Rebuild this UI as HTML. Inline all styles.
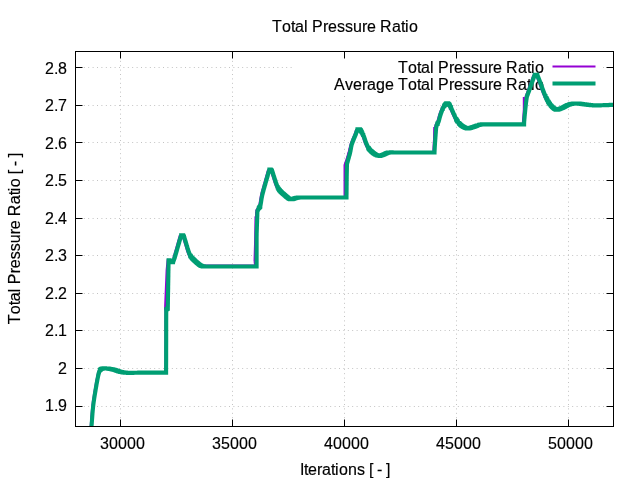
<!DOCTYPE html>
<html lang="en">
<head>
<meta charset="utf-8">
<title>Total Pressure Ratio</title>
<style>
html,body{margin:0;padding:0;background:#fff;}
body{width:640px;height:480px;overflow:hidden;font-family:"Liberation Sans",sans-serif;}
svg{display:block;}
</style>
</head>
<body>
<svg width="640" height="480" viewBox="0 0 640 480">
<rect width="640" height="480" fill="#fff"/>
<g stroke="#bcbcbc" stroke-width="1" stroke-dasharray="0.9 3.5" stroke-dashoffset="-0.05" fill="none">
<path d="M75.0 67.5H613.5"/>
<path d="M75.0 105.5H613.5"/>
<path d="M75.0 142.5H613.5"/>
<path d="M75.0 180.5H613.5"/>
<path d="M75.0 218.5H613.5"/>
<path d="M75.0 255.5H613.5"/>
<path d="M75.0 293.5H613.5"/>
<path d="M75.0 330.5H613.5"/>
<path d="M75.0 368.5H613.5"/>
<path d="M75.0 406.5H613.5"/>
<path d="M120.5 427.0V51.5"/>
<path d="M232.5 427.0V51.5"/>
<path d="M344.5 427.0V51.5"/>
<path d="M456.5 427.0V51.5"/>
<path d="M568.5 427.0V51.5"/>
</g>
<rect x="292.5" y="52" width="310.5" height="43" fill="#fff"/>
<g stroke="#000" stroke-width="1" fill="none">
<path d="M75.5 67.5h7M613.5 67.5h-7"/>
<path d="M75.5 105.5h7M613.5 105.5h-7"/>
<path d="M75.5 142.5h7M613.5 142.5h-7"/>
<path d="M75.5 180.5h7M613.5 180.5h-7"/>
<path d="M75.5 218.5h7M613.5 218.5h-7"/>
<path d="M75.5 255.5h7M613.5 255.5h-7"/>
<path d="M75.5 293.5h7M613.5 293.5h-7"/>
<path d="M75.5 330.5h7M613.5 330.5h-7"/>
<path d="M75.5 368.5h7M613.5 368.5h-7"/>
<path d="M75.5 406.5h7M613.5 406.5h-7"/>
<path d="M120.5 426.5v-7M120.5 51.5v7"/>
<path d="M232.5 426.5v-7M232.5 51.5v7"/>
<path d="M344.5 426.5v-7M344.5 51.5v7"/>
<path d="M456.5 426.5v-7M456.5 51.5v7"/>
<path d="M568.5 426.5v-7M568.5 51.5v7"/>
</g>
<g font-family="'Liberation Sans', sans-serif" font-size="16" fill="#000" stroke="#000" stroke-width="0.15">
<text x="45 54 58" y="73.8">2.8</text>
<text x="45 54 58" y="111.3">2.7</text>
<text x="45 54 58" y="148.8">2.6</text>
<text x="45 54 58" y="186.3">2.5</text>
<text x="45 54 58" y="223.8">2.4</text>
<text x="45 54 58" y="261.3">2.3</text>
<text x="45 54 58" y="298.8">2.2</text>
<text x="45 54 58" y="336.3">2.1</text>
<text x="58" y="373.8">2</text>
<text x="45 54 58" y="411.3">1.9</text>
<text x="100 109 118 127 136" y="448.8">30000</text>
<text x="212 221 230 239 248" y="448.8">35000</text>
<text x="324 333 342 351 360" y="448.8">40000</text>
<text x="436 445 454 463 472" y="448.8">45000</text>
<text x="548 557 566 575 584" y="448.8">50000</text>
<text x="272 282 291 295 304 308 312 323 328 337 345 353 362 367 376 380 392 401 405 409" y="31.6">Total Pressure Ratio</text>
<text x="300.1 304.1 308.1 317.1 322.1 331.1 335.1 339.1 348.1 357.1 365.1 369.1 373.1 377.1 382.1 386.1" y="475">Iterations [ - ]</text>
<text transform="translate(20.2 324.2) rotate(-90)" x="0 10 19 23 32 36 40 51 56 65 73 81 90 95 104 108 120 129 133 137 146 150 154 158 163 167" y="0">Total Pressure Ratio [ - ]</text>
</g>
<clipPath id="c"><rect x="75.5" y="51.5" width="538.0" height="375.0"/></clipPath>
<g font-family="'Liberation Sans', sans-serif" font-size="16" fill="#000" stroke="#000" stroke-width="0.15">
<text x="398 408 417 421 430 434 438 449 454 463 471 479 488 493 502 506 518 527 531 535" y="73">Total Pressure Ratio</text>
<text x="334 345 353 362 367 376 385 394 398 408 417 421 430 434 438 449 454 463 471 479 488 493 502 506 518 527 531 535" y="89.5">Average Total Pressure Ratio</text>
</g>
<path d="M552.5 66.5H595.5" stroke="#9400d3" stroke-width="2" fill="none"/>
<path d="M552.5 83.5H595.5" stroke="#009e73" stroke-width="4.2" fill="none"/>
<g clip-path="url(#c)" fill="none" stroke="#9400d3" stroke-width="2" stroke-linejoin="round">
<polyline points="173.29,258.00 174.52,253.75"/>
<polyline points="174.52,253.75 179.84,235.40"/>
<polyline points="179.84,235.40 182.40,235.40"/>
<polyline points="182.40,235.40 185.58,246.00"/>
<polyline points="185.58,246.00 185.73,246.50 185.88,247.01 186.03,247.51 186.18,248.02 186.32,248.52 186.48,249.02 186.63,249.51 186.78,250.00 186.93,250.45 187.07,250.91 187.22,251.35 187.37,251.80 187.52,252.24 187.68,252.67 187.84,253.09 188.00,253.50 188.15,253.86 188.30,254.22 188.45,254.57 188.61,254.91 188.77,255.24 188.94,255.57 189.11,255.89 189.30,256.20 189.49,256.48 189.68,256.75 189.88,257.01 190.08,257.27 190.30,257.52 190.52,257.77 190.76,258.03 191.00,258.30 191.32,258.64 191.66,258.98 192.01,259.33 192.38,259.69 192.75,260.04 193.14,260.40 193.52,260.75 193.90,261.10 194.30,261.47 194.71,261.85 195.13,262.23 195.55,262.61 195.97,262.98 196.39,263.34 196.80,263.68 197.20,264.00 197.52,264.25 197.84,264.49 198.14,264.73 198.45,264.95 198.76,265.16 199.07,265.36 199.38,265.54 199.70,265.70 200.00,265.83 200.31,265.95 200.62,266.05 200.94,266.14 201.25,266.22 201.57,266.29 201.88,266.35 202.20,266.40 202.51,266.44 202.81,266.47 203.11,266.48 203.41,266.49 203.72,266.49 204.03,266.49 204.36,266.50 204.70,266.50 205.16,266.51 205.63,266.51 206.13,266.51 206.64,266.51 207.16,266.51 207.68,266.50 208.19,266.50 208.70,266.50"/>
<polyline points="208.70,266.50 255.30,266.50"/>
<polyline points="255.30,266.50 254.50,261.00"/>
<polyline points="254.50,261.00 254.56,258.90 254.62,256.83 254.68,254.78 254.74,252.72 254.80,250.64 254.86,248.50 254.93,246.30 255.00,244.00 255.10,240.89 255.22,237.48 255.34,233.89 255.47,230.26 255.60,226.72 255.71,223.41 255.82,220.46 255.90,218.00 255.93,216.98 255.96,216.07 255.99,215.25 256.01,214.48 256.03,213.75 256.05,213.02 256.08,212.28 256.10,211.50"/>
<polyline points="256.10,211.50 256.27,211.09 256.44,210.68 256.61,210.26 256.77,209.84 256.95,209.43 257.12,209.04 257.31,208.66 257.50,208.30 257.67,208.02 257.85,207.75 258.04,207.50 258.23,207.26 258.42,207.02 258.62,206.78 258.81,206.55 259.00,206.30"/>
<polyline points="259.00,206.30 259.07,205.89 259.15,205.49 259.22,205.09 259.30,204.69 259.37,204.29 259.45,203.87 259.52,203.45 259.60,203.00 259.70,202.42 259.79,201.82 259.88,201.20 259.98,200.56 260.08,199.92 260.18,199.27 260.29,198.63 260.40,198.00 260.52,197.38 260.64,196.76 260.76,196.14 260.88,195.52 261.01,194.90 261.15,194.28 261.30,193.64 261.45,193.00 261.63,192.27 261.83,191.53 262.03,190.77 262.25,190.01 262.47,189.24 262.68,188.48 262.90,187.73 263.10,187.00 263.29,186.33 263.48,185.66 263.67,185.01 263.86,184.35 264.04,183.70 264.23,183.05 264.41,182.40 264.60,181.75"/>
<polyline points="264.60,181.75 268.09,169.50"/>
<polyline points="268.09,169.50 270.38,169.50"/>
<polyline points="270.38,169.50 273.34,178.75"/>
<polyline points="273.34,178.75 273.56,179.42 273.77,180.10 273.99,180.79 274.20,181.47 274.42,182.15 274.64,182.81 274.87,183.47 275.10,184.10 275.31,184.66 275.52,185.22 275.73,185.77 275.95,186.31 276.17,186.83 276.40,187.34 276.65,187.83 276.90,188.30 277.12,188.68 277.35,189.03 277.58,189.37 277.82,189.70 278.07,190.03 278.34,190.35 278.61,190.67 278.90,191.00 279.26,191.39 279.65,191.78 280.06,192.18 280.48,192.57 280.91,192.96 281.35,193.34 281.78,193.72 282.20,194.10 282.61,194.46 283.02,194.83 283.43,195.19 283.84,195.55 284.25,195.91 284.66,196.25 285.06,196.58 285.45,196.90 285.78,197.17 286.12,197.44 286.44,197.71 286.77,197.97 287.09,198.22 287.40,198.44 287.71,198.64 288.00,198.80 288.20,198.90 288.39,198.98 288.57,199.05 288.76,199.11 288.94,199.16 289.12,199.20 289.31,199.23 289.50,199.25 289.70,199.26 289.91,199.27 290.12,199.26 290.33,199.24 290.54,199.22 290.75,199.18 290.97,199.14 291.20,199.10 291.48,199.03 291.77,198.94 292.06,198.84 292.36,198.73 292.66,198.62 292.97,198.50 293.28,198.40 293.60,198.30 293.97,198.20 294.36,198.10 294.76,197.99 295.16,197.90 295.57,197.81 295.96,197.73 296.34,197.66 296.70,197.60 296.96,197.57 297.20,197.54 297.43,197.53 297.66,197.52 297.89,197.51 298.13,197.51 298.40,197.51 298.70,197.50 299.30,197.49 299.97,197.48 300.71,197.48 301.50,197.49 302.31,197.49 303.12,197.49 303.93,197.50 304.70,197.50"/>
<polyline points="304.70,197.50 345.20,197.50"/>
<polyline points="345.20,197.50 345.23,194.63 345.26,191.69 345.29,188.72 345.32,185.77 345.35,182.87 345.38,180.08 345.41,177.44 345.45,175.00 345.48,173.41 345.51,171.92 345.54,170.50 345.57,169.13 345.60,167.80 345.64,166.47 345.67,165.13 345.70,163.75"/>
<polyline points="345.70,163.75 345.92,162.97 346.14,162.19 346.36,161.41 346.58,160.63 346.80,159.84 347.02,159.06 347.24,158.28 347.45,157.50 347.66,156.72 347.88,155.94 348.10,155.16 348.31,154.38 348.52,153.60 348.72,152.82 348.92,152.03 349.10,151.25 349.27,150.46 349.42,149.66 349.55,148.85 349.69,148.05 349.82,147.25 349.97,146.47 350.12,145.72 350.30,145.00 350.46,144.43 350.63,143.89 350.81,143.37 350.99,142.87 351.18,142.36 351.38,141.84 351.58,141.31 351.80,140.75 352.08,140.02 352.39,139.27 352.71,138.49 353.05,137.70 353.39,136.89 353.73,136.09 354.07,135.29 354.40,134.50"/>
<polyline points="354.40,134.50 356.20,129.20"/>
<polyline points="356.20,129.20 358.30,129.20"/>
<polyline points="358.30,129.20 358.45,129.37 358.59,129.52 358.74,129.67 358.88,129.83 359.03,129.99 359.18,130.17 359.34,130.37 359.50,130.60 359.83,131.11 360.19,131.72 360.57,132.41 360.97,133.15 361.36,133.92 361.75,134.71 362.11,135.49 362.45,136.25 362.75,137.01 363.03,137.78 363.29,138.56 363.53,139.35 363.78,140.14 364.03,140.94 364.30,141.72 364.60,142.50 364.93,143.30 365.26,144.13 365.61,144.95 365.97,145.77 366.35,146.58 366.75,147.35 367.16,148.08 367.60,148.75 368.00,149.28 368.41,149.78 368.85,150.25 369.29,150.69 369.75,151.12 370.20,151.53 370.65,151.92 371.10,152.30 371.49,152.62 371.88,152.93 372.27,153.23 372.66,153.51 373.05,153.78 373.44,154.04 373.82,154.28 374.20,154.50 374.52,154.68 374.85,154.84 375.18,155.00 375.51,155.14 375.83,155.28 376.13,155.40 376.43,155.50 376.70,155.60 376.87,155.66 377.04,155.71 377.20,155.76 377.35,155.81 377.50,155.84 377.65,155.87 377.80,155.89 377.95,155.90 378.10,155.90 378.25,155.88 378.40,155.86 378.55,155.83 378.70,155.79 378.86,155.74 379.02,155.70 379.20,155.65 379.47,155.57 379.75,155.49 380.05,155.40 380.35,155.29 380.67,155.18 381.01,155.06 381.35,154.93 381.70,154.80 382.22,154.58 382.80,154.33 383.41,154.04 384.04,153.75 384.66,153.46 385.25,153.20 385.81,152.97 386.30,152.80 386.57,152.72 386.81,152.66 387.04,152.61 387.26,152.56 387.48,152.53 387.70,152.50 387.94,152.47 388.20,152.45 388.59,152.42 389.00,152.41 389.43,152.41 389.88,152.42 390.34,152.43 390.80,152.44 391.26,152.45 391.70,152.45"/>
<polyline points="391.70,152.45 433.20,152.45"/>
<polyline points="433.20,152.45 433.25,151.54 433.29,150.66 433.34,149.79 433.38,148.91 433.43,148.01 433.48,147.07 433.53,146.07 433.60,145.00 433.72,143.23 433.85,141.28 434.00,139.21 434.16,137.04 434.32,134.83 434.48,132.59 434.65,130.39 434.80,128.25"/>
<polyline points="434.80,128.25 434.88,127.84 434.95,127.43 435.02,127.02 435.10,126.61 435.17,126.20 435.26,125.79 435.37,125.39 435.50,125.00 435.66,124.62 435.84,124.26 436.04,123.92 436.25,123.58 436.47,123.22 436.69,122.85 436.90,122.44 437.10,122.00 437.38,121.25 437.64,120.41 437.89,119.50 438.14,118.54 438.39,117.57 438.65,116.60 438.92,115.65 439.20,114.75 439.48,113.93 439.77,113.11 440.06,112.29 440.36,111.48 440.66,110.69 440.97,109.92 441.28,109.19 441.60,108.50 441.85,107.97 442.11,107.45 442.37,106.94 442.64,106.46 442.90,106.00 443.17,105.56 443.43,105.16 443.70,104.80 443.89,104.57 444.07,104.37 444.26,104.19 444.45,104.02 444.64,103.85 444.82,103.69 445.01,103.52 445.20,103.35"/>
<polyline points="445.20,103.35 446.50,103.35"/>
<polyline points="446.50,103.35 446.70,103.52 446.90,103.69 447.11,103.85 447.31,104.02 447.51,104.19 447.71,104.37 447.91,104.57 448.10,104.80 448.35,105.15 448.59,105.54 448.82,105.97 449.05,106.42 449.27,106.88 449.50,107.35 449.72,107.81 449.95,108.25"/>
<polyline points="449.95,108.25 450.29,109.03 450.63,109.81 450.97,110.60 451.31,111.38 451.65,112.16 451.99,112.94 452.34,113.72 452.70,114.50 453.06,115.29 453.42,116.10 453.78,116.91 454.14,117.71 454.52,118.51 454.92,119.28 455.34,120.03 455.80,120.75 456.27,121.42 456.77,122.07 457.29,122.72 457.84,123.34 458.39,123.93 458.96,124.50 459.53,125.02 460.10,125.50 460.60,125.88 461.13,126.23 461.67,126.56 462.22,126.86 462.75,127.13 463.27,127.38 463.75,127.60 464.20,127.80 464.47,127.91 464.72,128.02 464.96,128.11 465.19,128.20 465.41,128.27 465.64,128.32 465.86,128.37 466.10,128.40 466.33,128.42 466.56,128.42 466.78,128.40 467.01,128.38 467.24,128.34 467.48,128.30 467.73,128.25 468.00,128.20 468.40,128.11 468.81,128.00 469.25,127.88 469.70,127.74 470.17,127.59 470.66,127.43 471.17,127.27 471.70,127.10 472.53,126.82 473.43,126.49 474.40,126.13 475.40,125.76 476.40,125.40 477.39,125.07 478.33,124.80 479.20,124.60 479.81,124.50 480.39,124.44 480.95,124.41 481.50,124.40 482.04,124.40 482.58,124.41 483.13,124.41 483.70,124.40 484.31,124.39 484.93,124.38 485.56,124.37 486.18,124.36 486.81,124.36 487.44,124.36 488.07,124.36 488.70,124.35"/>
<polyline points="488.70,124.35 522.80,124.35"/>
<polyline points="522.80,124.35 522.82,123.95 522.83,123.58 522.84,123.21 522.85,122.84 522.87,122.45 522.89,122.03 522.91,121.55 522.95,121.00 523.08,119.31 523.28,117.13 523.51,114.61 523.78,111.90 524.05,109.16 524.33,106.54 524.58,104.18 524.80,102.25 524.91,101.37 525.01,100.58 525.11,99.85 525.21,99.17 525.31,98.51 525.40,97.86 525.50,97.20 525.60,96.50"/>
<polyline points="525.60,96.50 525.76,96.07 525.92,95.65 526.07,95.23 526.23,94.81 526.39,94.39 526.55,93.95 526.72,93.49 526.90,93.00 527.15,92.31 527.42,91.56 527.70,90.79 527.99,89.99 528.28,89.17 528.57,88.35 528.86,87.54 529.15,86.75 529.43,85.97 529.71,85.19 529.99,84.41 530.28,83.62 530.56,82.84 530.84,82.06 531.12,81.28 531.40,80.50"/>
<polyline points="531.40,80.50 533.45,74.90"/>
<polyline points="533.45,74.90 535.95,74.90"/>
<polyline points="535.95,74.90 538.90,82.50"/>
<polyline points="538.90,82.50 539.39,83.85 539.90,85.26 540.42,86.69 540.93,88.11 541.43,89.48 541.90,90.78 542.35,91.96 542.76,93.00 542.97,93.52 543.16,93.99 543.34,94.41 543.52,94.81 543.69,95.20 543.87,95.61 544.08,96.03 544.30,96.50 544.64,97.21 545.02,97.99 545.43,98.81 545.85,99.65 546.29,100.48 546.73,101.29 547.17,102.06 547.60,102.75 547.93,103.25 548.26,103.72 548.58,104.17 548.91,104.59 549.24,105.01 549.58,105.41 549.94,105.81 550.30,106.20 550.68,106.59 551.08,106.99 551.49,107.39 551.91,107.77 552.32,108.13 552.73,108.46 553.13,108.75 553.50,109.00 553.74,109.14 553.97,109.27 554.19,109.38 554.41,109.47 554.63,109.55 554.85,109.62 555.07,109.67 555.30,109.70 555.52,109.71 555.73,109.71 555.94,109.68 556.16,109.65 556.38,109.60 556.61,109.54 556.85,109.47 557.10,109.40 557.51,109.28 557.95,109.13 558.41,108.96 558.89,108.78 559.39,108.58 559.90,108.36 560.42,108.13 560.95,107.90 561.67,107.56 562.43,107.16 563.23,106.73 564.04,106.28 564.85,105.84 565.66,105.43 566.45,105.05 567.20,104.75 567.79,104.55 568.36,104.37 568.92,104.22 569.48,104.09 570.03,103.97 570.58,103.87 571.14,103.78 571.70,103.70 572.25,103.63 572.79,103.57 573.33,103.53 573.88,103.50 574.43,103.48 574.99,103.48 575.58,103.48 576.20,103.50 577.04,103.55 577.93,103.63 578.84,103.74 579.79,103.87 580.75,104.00 581.73,104.14 582.72,104.28 583.70,104.40 584.78,104.53 585.88,104.68 586.99,104.82 588.12,104.97 589.25,105.11 590.40,105.23 591.55,105.33 592.70,105.40 593.93,105.44 595.17,105.45 596.42,105.43 597.68,105.39 598.94,105.35 600.21,105.30 601.46,105.24 602.70,105.20 603.90,105.16 605.09,105.11 606.28,105.06 607.47,105.01 608.65,104.96 609.83,104.90 611.01,104.85 612.20,104.80"/>
<polyline points="90.60,426.50 90.82,423.79 91.02,421.06 91.22,418.32 91.43,415.58 91.64,412.87 91.87,410.19 92.12,407.56 92.40,405.00 92.68,402.75 92.99,400.51 93.32,398.29 93.66,396.11 94.01,393.98 94.35,391.92 94.69,389.96 95.00,388.10 95.22,386.78 95.44,385.52 95.65,384.30 95.86,383.13 96.07,381.99 96.28,380.88 96.49,379.80 96.70,378.75 96.87,377.90 97.03,377.07 97.19,376.25 97.35,375.46 97.51,374.69 97.69,373.95 97.89,373.26 98.10,372.60 98.27,372.13 98.44,371.66 98.61,371.21 98.79,370.78 98.98,370.38 99.19,370.01 99.43,369.68 99.70,369.40 99.95,369.21 100.23,369.06 100.53,368.94 100.84,368.85 101.16,368.76 101.48,368.69 101.79,368.60 102.10,368.50"/>
<polyline points="160.00,372.60 165.40,372.60 165.40,311.00 165.00,309.00 166.60,270.00 167.60,259.80 171.00,261.00"/>
<polyline points="200.00,265.50 255.50,265.50 255.50,217.00 256.50,216.00 256.60,209.00"/>
<polyline points="340.00,197.50 344.50,197.50 344.50,165.00 346.90,158.00 348.80,151.50 350.30,146.00"/>
<polyline points="430.00,152.45 434.20,152.45 434.20,127.00"/>
<polyline points="520.00,124.35 523.80,124.35 523.80,97.00"/>
</g>
<g clip-path="url(#c)"><path transform="scale(0.05)" d="M1830 8530v-1l1 -6v-11l1 -6v-5l1 -6v-6l1 -5v-6l1 -6v-11l1 -6v-6l1 -6v-6l1 -6v-6l1 -6v-6l1 -7v-12l1 -6v-6l1 -6v-6l1 -6v-6l1 -6v-13l1 -6v-6l1 -6v-6l1 -6v-5l1 -6v-12l1 -5v-6l1 -6v-6l1 -5v-6l1 -5v-5l1 -5v-11l1 -5v-5l1 -6v-5l1 -5v-4l1 -5v-9l1 -5v-5l1 -4v-5l1 -5v-5l1 -4v-8l1 -4v-4l1 -4v-4l1 -4v-4l1 -5v-4l1 -4v-7l1 -4v-4l1 -3v-4l1 -3v-4l1 -3v-7l1 -4v-4l1 -3v-3l1 -4v-3l1 -3v-7l1 -3v-3l1 -3v-4l1 -3v-3l1 -3v-3l1 -3v-6l1 -3v-3l1 -3v-4l1 -3v-3l1 -3v-6l1 -3v-3l1 -3v-2l1 -3v-3l1 -3v-6l1 -3v-2l1 -3v-3l1 -3v-3l1 -3v-3l1 -2v-6l1 -3v-2l1 -3v-3l1 -3v-2l1 -3v-6l1 -2v-3l1 -3v-3l1 -2v-3l1 -3v-5l1 -3v-2l1 -3v-3l1 -3v-2l1 -3v-3l1 -2v-6l1 -2v-3l1 -3v-2l1 -3v-3l1 -2v-5l1 -3v-3l1 -2v-3l1 -3v-2l1 -3v-5l1 -3v-3l1 -2v-3l1 -3v-2l1 -3v-3l1 -2v-6l1 -2v-3l1 -3v-2l1 -3v-2l1 -3v-5l1 -3v-3l1 -2v-3l1 -3v-2l1 -3v-2l1 -3v-5l1 -3v-2l1 -3v-2l1 -3v-3l1 -2v-5l1 -3v-2l1 -3v-2l1 -3v-2l1 -3v-5l1 -2v-3l1 -2v-3l1 -2v-2l1 -3v-2l1 -3v-5l1 -2v-2l1 -3v-2l1 -2v-3l1 -2v-5l1 -2v-2l1 -3v-2l1 -2v-3l1 -2v-4l1 -3v-2l1 -2v-2l1 -3v-2l1 -2v-2l1 -3v-4l1 -2v-3l1 -2v-2l1 -2v-3l1 -2v-5l1 -2v-2l1 -3v-2l1 -2v-3l1 -2v-5l1 -2v-2l1 -2v-2l1 -3v-2l1 -2v-2l1 -2v-5l1 -2v-2l1 -2v-2l1 -2v-2l1 -1v-4l1 -2v-2l1 -2v-1l1 -2v-2l1 -1v-3l1 -2v-2l1 -1v-2l1 -1v-1l1 -2v-1l1 -1v-3l1 -2v-1l1 -1v-1l1 -2v-1l1 -1v-3l1 -1v-1l1 -1v-2l1 -1v-1l1 -1v-3l1 -1v-1l1 -1v-2l1 -1v-1l1 -1v-1l1 -1v-2l1 -1v-1l1 -1v-1l1 -1v-1l1 -1v-2l1 -1v-1l1 -1v-1h1v-1l1 -1v-1l1 -1v-1l2 -2v-1h1v-1h1v-2h1v-1h1v-1h1v-1h1v-1l3 -3h1v-1l1 -1h1v-1h1l1 -1h1v-1h1l1 -1h1l1 -1h1v-1h2v-1h2v-1h3v-1h2l1 -1h2v-1h4v-1h4v-1h4v-1h5v-1h5v-1h6l1 -1h7v-1h49l1 1h13v1h11v1h10l1 1h8v1h8v1h7v1h7v1h6v1h6l1 1h5l1 1h5v1h6v1h5l1 1h4v1h5l1 1h4l1 1h4v1h5v1h4l1 1h4v1h4l1 1h3l1 1h4v1h4v1h3l1 1h3v1h3l1 1h3l1 1h3v1h3v1h3v1h3l1 1h2l1 1h2l1 1h2v1h3l1 1h2v1h3v1h3v1h2l1 1h2l1 1h2v1h3v1h3v1h2l1 1h2v1h3v1h2l1 1h2v1h3l1 1h2v1h3v1h2l1 1h2v1h3l1 1h2v1h3v1h3v1h3v1h2l1 1h3v1h3v1h3l1 1h2l1 1h3v1h3l1 1h3v1h4v1h4v1h4v1h4v1h4l1 1h4l1 1h4l1 1h5v1h5l1 1h5l1 1h5l1 1h6v1h7v1h8v1h8l1 1h8v1h10v1h11v1h13v1h15v1h17v1h26v1h26l1 -1h33v-1h24v-1h27l1 -1h64l1 -1h127v-1h432v-69l1 -188v-189l1 -189v-377l1 -188v-62h1v-1h1l2 -2h1l1 -1h1v-1h1l1 -1h1v-1h2v-1h1v-1h2v-1h1v-1h2v-1h1l2 -2h1l1 -1h1v-1h1l1 -1h1v-1h2v-1h1v-1h1v-14l1 -27v-27l1 -27v-54l1 -27v-27l1 -27v-27l1 -27v-27l1 -27v-27l1 -27v-54l1 -27v-27l1 -27v-28l1 -27v-27l1 -27v-54l1 -27v-27l1 -27v-27l1 -27v-27l1 -27v-54l1 -27v-4h2l1 1h5l1 1h6v1h5v1h3l1 1h2l1 1h2l1 1h1l1 1h2v1h2v1h2v1h2v1h2v1h1l1 1h1l1 1h1v1h2v1h2v1h1v1h2v1h2v1h1l1 1h1v1h1l1 1h1l1 1h1v1h1l1 1h1v1h2v1h1l1 1h1v1h1l1 1h1l1 1h1v1h1l1 1h1l1 1h1v1h1l1 1h1l1 1h1v1h1v-1l1 -1v-1l1 -1v-3l1 -1v-1l1 -1v-2l1 -1v-1l1 -1v-1l1 -2v-2l1 -1v-2l1 -1v-1l1 -1v-1l1 -2v-2l1 -1v-1l1 -2v-1l1 -1v-1l1 -2v-2l1 -1v-1l1 -2v-1l1 -1v-1l1 -1v-2l1 -1v-2l1 -2v-1l1 -1v-1l1 -1v-2l1 -1v-2l1 -1v-2l1 -1v-1l1 -1v-2l1 -1v-2l1 -1v-2l1 -1v-1l1 -1v-1l1 -2v-1l1 -2v-3l1 -1v-2l1 -1v-2l1 -2v-1l1 -2v-3l1 -1v-2l1 -1v-2l1 -1v-2l1 -2v-3l1 -1v-2l1 -1v-2l1 -1v-2l1 -1v-2l1 -2v-3l1 -1v-2l1 -1v-2l1 -1v-2l1 -1v-4l1 -1v-2l1 -1v-2l1 -1v-2l1 -1v-3l1 -2v-2l1 -1v-2l1 -1v-2l1 -1v-2l1 -1v-3l1 -2v-2l1 -1v-2l1 -1v-2l1 -1v-3l1 -2v-1l1 -2v-2l1 -1v-2l1 -1v-2l1 -1v-3l1 -2v-1l1 -2v-2l1 -1v-2l1 -1v-3l1 -2v-1l1 -2v-1l1 -2v-2l1 -1v-3l1 -2v-1l1 -2v-1l1 -2v-1l1 -2v-2l1 -1v-3l1 -2v-1l1 -2v-1l1 -2v-1l1 -2v-3l1 -2v-1l1 -2v-1l1 -2v-1l1 -2v-3l1 -2v-1l1 -2v-1l1 -2v-1l1 -2v-1l1 -2v-3l1 -2v-1l1 -2v-1l1 -2v-1l1 -2v-3l1 -2v-1l1 -2v-1l1 -2v-1l1 -2v-3l1 -1v-2l1 -2v-1l1 -2v-1l1 -2v-1l1 -2v-3l1 -1v-2l1 -2v-1l1 -2v-1l1 -2v-3l1 -1v-2l1 -1v-2l1 -2v-1l1 -2v-3l1 -1v-2l1 -1v-2l1 -1v-2l1 -2v-1l1 -2v-3l1 -1v-2l1 -1v-2l1 -1v-2l1 -2v-3l1 -1v-2l1 -1v-2l1 -1v-2l1 -1v-4l1 -1v-2l1 -1v-2l1 -1v-2l1 -1v-2l1 -1v-4l1 -1v-2l1 -1v-2l1 -1v-2l1 -1v-3l1 -2v-2l1 -1v-2l1 -1v-2l1 -1v-3l1 -2v-1l1 -2v-2l1 -1v-2l1 -1v-2l1 -1v-3l1 -2v-1l1 -2v-2l1 -1v-2l1 -1v-3l1 -2v-1l1 -2v-1l1 -2v-2l1 -1v-3l1 -2v-1l1 -2v-1l1 -2v-1l1 -2v-2l1 -1v-3l1 -2v-1l1 -2v-1l1 -2v-1l1 -2v-1h51l1 2v3l1 1v2l1 1v2l1 1v2l1 1v3l1 2v1l1 2v1l1 2v1l1 2v1l1 2v3l1 1v2l1 1v2l1 1v2l1 1v3l1 2v1l1 2v1l1 2v1l1 1v3l1 2v1l1 2v1l1 2v1l1 2v1l1 2v3l1 1v2l1 1v2l1 1v2l1 1v3l1 2v1l1 2v1l1 2v1l1 2v3l1 1v2l1 1v2l1 1v2l1 1v2l1 1v3l1 2v1l1 2v1l1 2v1l1 2v3l1 1v2l1 1v2l1 1v2l1 1v3l1 2v1l1 2v1l1 2v1l1 2v1l1 2v3l1 1v2l1 1v2l1 1v2l1 1v3l1 2v1l1 2v1l1 2v1l1 2v3l1 1v1l1 2v1l1 2v1l1 2v1l1 2v3l1 1v2l1 1v2l1 1v2l1 1v3l1 2v2l1 1v2l1 1v2l1 1v3l1 2v1l1 2v1l1 2v1l1 2v1l1 2v3l1 2v1l1 2v1l1 2v1l1 2v3l1 1v2l1 1v2l1 1v2l1 1v3l1 1v2l1 1v2l1 1v1l1 2v1l1 2v2l1 2v1l1 2v1l1 1v2l1 1v3l1 1v2l1 1v1l1 2v1l1 2v2l1 2v1l1 1v2l1 1v1l1 2v1l1 1v3l1 1v1l1 2v1l1 1v1l1 2v2l1 1v2l1 1v1l1 1v1l1 1v3l1 1v1l1 1v1l1 1v1l1 2v1l1 1v2l1 1v1l1 1v1l1 1v1l1 1v2l1 1v1l1 2v1l1 1v1l1 1v2l1 1v1l2 2v1l1 1v1l1 1v2l1 1v1l1 1v1h1v1l1 1v2l2 2v1l1 1v1h1v1l1 1v1l1 1v1l2 2v1h1v2h1v1l2 2v1h1v1l1 1v1h1v1l3 3v1l4 4v1l4 4v1h1v1h1v1h1v1h1v1h1v1l4 4v1h1v1h1v1h1v1h1v1l5 5v1h1v1h1v1h1l1 1v1h1v1h1v1h1v1h1v1h1v1h1v1h1v1h1v1h1v1h1v1h1v1h1v1h1v1h1v1h1v1h1l1 1v1h1v1h1l6 6h1v1l2 2h1v1h1v1h1v1h1v1h1v1h1l1 1v1h1l5 5h1v1h1v1h1v1h1v1h1v1h1l1 1v1h1l5 5h1v1h1v1h1v1h1v1h1v1h1l1 1v1h1l2 2h1v1l2 2h1v1h1v1h1v1h1v1h1l2 2v1h1l2 2h1v1l1 1h1v1h1v1h1v1h1v1h1l2 2h1v1l1 1h1v1h1v1h1v1h1v1h1l1 1h1v1l1 1h1v1h1v1h1l3 3h1v1h1v1h1v1h1l1 1h1v1l1 1h1v1h1l1 1h1v1l1 1h1v1h1l2 2h1v1h1l3 3h1v1h1l2 2h1v1h1l2 2h1v1h1l3 3h1l1 1h1v1h1v1h1l1 1h1v1h1v1h1l1 1h1v1h1l1 1h1v1h2v1h1v1h2v1h1l1 1h1l1 1h1v1h2v1h2v1h2v1h2l1 1h1l1 1h2v1h2l1 1h2v1h3v1h3v1h3v1h4v1h3l1 1h4v1h4l1 1h4v1h6v1h7v1h11v1h1047v-587l1 -37v-44l1 -12v-13l1 -13v-13l1 -12v-13l1 -13v-25l1 -12v-13l1 -13v-13l1 -12v-13l1 -13v-13l1 -13v-25l1 -14v-13l1 -13v-14l1 -14v-14l1 -14v-30l1 -15v-15l1 -15v-8l1 -1v-1l1 -1v-2l1 -1v-1l1 -1v-1l1 -1v-1l1 -1v-2l1 -1v-2l1 -1v-1l1 -1v-1l1 -2v-1l1 -1v-2l1 -1v-1l1 -1v-1l1 -2v-1l1 -1v-2l1 -1v-1l1 -1v-1l1 -1v-1l1 -1v-1l1 -1v-2l1 -1v-1l1 -1v-1l1 -1v-1l1 -1v-1l1 -1v-1l1 -1v-1l2 -2v-2h1v-1l1 -1v-1h1v-1l2 -2v-1l1 -1v-1h1v-1l2 -2v-1l3 -3v-1h1v-1l2 -2v-1h1v-1h1v-1h1v-1l1 -1v-1h1v-1h1v-1h1v-1l1 -1v-1h1v-1h1v-1h1v-1l1 -1v-1h1v-1h1v-1h1v-1l1 -3v-5l1 -2v-3l1 -2v-2l1 -3v-2l1 -3v-4l1 -3v-2l1 -3v-2l1 -3v-2l1 -3v-5l1 -2v-3l1 -2v-3l1 -2v-3l1 -3v-2l1 -3v-6l1 -3v-2l1 -3v-3l1 -3v-3l1 -3v-6l1 -3v-3l1 -3v-3l1 -3v-3l1 -3v-5l1 -3v-3l1 -3v-2l1 -3v-3l1 -3v-2l1 -3v-5l1 -2v-3l1 -2v-2l1 -3v-2l1 -3v-4l1 -3v-2l1 -2v-3l1 -2v-2l1 -2v-5l1 -2v-2l1 -2v-3l1 -2v-2l1 -2v-2l1 -2v-4l1 -3v-2l1 -2v-2l1 -2v-2l1 -2v-4l1 -2v-2l1 -1v-2l1 -2v-2l1 -2v-4l1 -2v-2l1 -1v-2l1 -2v-2l1 -1v-2l1 -2v-3l1 -2v-2l1 -2v-1l1 -2v-2l1 -1v-4l1 -1v-2l1 -2v-1l1 -2v-2l1 -1v-3l1 -2v-2l1 -1v-2l1 -1v-2l1 -2v-1l1 -2v-3l1 -2v-1l1 -2v-1l1 -2v-1l1 -2v-3l1 -2v-1l1 -2v-1l1 -2v-2l1 -1v-3l1 -2v-1l1 -2v-2l1 -1v-2l1 -1v-2l1 -1v-4l1 -1v-2l1 -1v-2l1 -2v-1l1 -2v-3l1 -1v-2l1 -2v-1l1 -2v-1l1 -2v-3l1 -2v-1l1 -2v-2l1 -1v-2l1 -1v-2l1 -1v-4l1 -1v-2l1 -1v-2l1 -1v-2l1 -2v-3l1 -1v-2l1 -1v-2l1 -2v-1l1 -2v-3l1 -1v-2l1 -1v-2l1 -2v-1l1 -2v-1l1 -2v-3l1 -2v-1l1 -2v-1l1 -2v-1l1 -2v-3l1 -2v-1l1 -2v-1l1 -2v-2l1 -1v-3l1 -2v-1l1 -2v-2l1 -1v-2l1 -1v-2l1 -1v-4l1 -1v-2l1 -1v-2l1 -1v-2l1 -2v-3l1 -1v-2l1 -1v-2l1 -2v-1l1 -2v-3l1 -1v-2l1 -2v-1l1 -2v-1l1 -2v-1l1 -2v-3l1 -2v-1l1 -2v-1l1 -2v-2l1 -1v-3l1 -2v-1l1 -2v-2l1 -1v-2l1 -1v-3l1 -2v-2l1 -1v-2l1 -1v-2l1 -1v-2l1 -2v-3l1 -1v-2l1 -1v-2l1 -2v-1l1 -2v-3l1 -1v-2l1 -2v-1l1 -2v-1l1 -2v-3l1 -2v-1l1 -2v-1l1 -2v-2l1 -1v-2l1 -1v-3l1 -2v-2l1 -1v-2l1 -1v-2l1 -1v-4l1 -1v-2l1 -1v-2l1 -1v-2l1 -2v-3l1 -1v-2l1 -1v-2l1 -2v-1l1 -2v-1l1 -2v-3l1 -2v-1l1 -2v-1l1 -2v-1l1 -2v-3l1 -2v-1l1 -2v-1l1 -2v-2l1 -1v-3l1 -2v-1l1 -2v-2l1 -1v-2l1 -1v-1h45l1 1v1l1 1v2l1 1v2l1 1v3l1 1v2l1 1v1l1 2v1l1 2v2l1 2v1l1 2v1l1 1v2l1 1v3l1 1v2l1 1v2l1 1v2l1 1v1l1 2v3l1 1v1l1 2v1l1 2v1l1 1v3l1 2v1l1 1v2l1 1v2l1 1v3l1 1v2l1 1v1l1 2v1l1 2v1l1 1v3l1 2v1l1 1v2l1 1v2l1 1v3l1 1v2l1 1v1l1 2v1l1 2v2l1 2v1l1 2v1l1 1v2l1 1v2l1 1v3l1 1v2l1 1v1l1 2v1l1 2v2l1 2v1l1 2v1l1 1v2l1 1v3l1 1v2l1 1v2l1 1v1l1 2v1l1 2v2l1 2v1l1 2v1l1 1v2l1 1v3l1 1v2l1 1v2l1 1v1l1 2v2l1 2v1l1 2v1l1 2v1l1 1v2l1 1v3l1 1v2l1 1v2l1 1v2l1 1v3l1 1v2l1 1v2l1 1v1l1 2v3l1 1v1l1 2v1l1 2v1l1 1v2l1 1v3l1 1v2l1 1v1l1 2v1l1 1v3l1 1v2l1 1v1l1 1v2l1 1v3l1 1v1l1 1v2l1 1v1l1 1v1l1 2v2l1 1v1l1 2v1l1 1v1l1 1v3l1 1v1l1 1v2l1 1v1l1 1v2l1 2v1l1 1v1l1 1v1l1 2v1l1 1v2l1 1v1l1 1v2l1 1v1l1 1v2l1 1v1l1 1v1l1 1v1l1 2v2l1 1v1l1 1v1l1 1v1l1 1v1l1 1v2h1v1l1 1v1l1 1v1l1 1v2l2 2v1l1 1v1l1 1v1l1 1v1l2 2v1l2 2v2h1v1l1 1v1h1v1l1 1v1l1 1v1h1v1l2 2v1l1 1v1h1v1l3 3v1l2 2v1h1v1h1v2h1v1h1v1h1v1l1 1v1h1v1h1v1l3 3v1h1v1h1v1h1v1h1v2h1v1h1v1h1v1h1v1l5 5v1h1v1h1v1h1v1h1v1h1v1h1v1h1v1h1v1l1 1h1v1h1v1h1v1h1v1h1v1h1v1h1v1h1v1h1v1h1v1h1v1h1v1h1v1h1l5 5h1v1h1v1h1v1h1v1h1l1 1v1h1v1h1l2 2h1v1l1 1h1v1h1v1h1v1h1v1h1l4 4h1v1h1l1 1v1h1l2 2h1v1l1 1h1v1h1v1h1v1h1v1h1l2 2h1v1l1 1h1v1h1v1h1v1h1v1h1v1h1l4 4h1v1h1v1h1v1h1l4 4h1v1h1v1h1v1h1v1h1l4 4h1v1h1v1h1v1h1l2 2h1v1l1 1h1v1h1l1 1v1h1l2 2h1v1h1v1h1v1h1l1 1h1v1l1 1h1v1h1l1 1v1h1l1 1h1v1h1v1h1v1h1l1 1h1v1h1v1h1v1h1l1 1h1v1l1 1h1v1h1l3 3h1v1h1l3 3h1v1h1v1h1v1h1l1 1h1v1h1v1h1v1h1l1 1h1v1h1v1h1l3 3h1v1h1l2 2h1v1h1l1 1h1v1h1v1h1l1 1h1v1h1l1 1h1l2 2h1l1 1h1l1 1h1v1h2v1h2v1h2l1 1h1l1 1h2l1 1h2v1h3l1 1h3l1 1h5v1h24v-1h6v-1h5l1 -1h4v-1h4v-1h3l1 -1h2v-1h3l1 -1h2v-1h2l1 -1h2l1 -1h2v-1h3v-1h2l1 -1h2v-1h3v-1h3v-1h3v-1h3v-1h4v-1h3l1 -1h3v-1h4v-1h3l1 -1h3l1 -1h3l1 -1h4v-1h4v-1h4l1 -1h4v-1h5v-1h5l1 -1h6v-1h7v-1h13v-1h953v-33l1 -43v-46l1 -46v-46l1 -44v-82l1 -36v-33l1 -30v-27l1 -24v-22l1 -21v-19l1 -19v-37l1 -19v-18l1 -20v-11l1 -1v-2l1 -2v-3l1 -1v-2l1 -2v-1l1 -2v-1l1 -2v-3l1 -2v-1l1 -2v-1l1 -2v-2l1 -1v-2l1 -1v-4l1 -1v-2l1 -1v-2l1 -1v-2l1 -2v-3l1 -1v-2l1 -2v-1l1 -2v-1l1 -2v-3l1 -2v-1l1 -2v-2l1 -1v-2l1 -1v-2l1 -2v-3l1 -1v-2l1 -2v-1l1 -2v-1l1 -2v-3l1 -2v-1l1 -2v-2l1 -1v-2l1 -2v-3l1 -1v-2l1 -2v-1l1 -2v-2l1 -1v-2l1 -2v-3l1 -1v-2l1 -2v-1l1 -2v-2l1 -1v-3l1 -2v-2l1 -1v-2l1 -2v-1l1 -2v-3l1 -2v-1l1 -2v-2l1 -1v-2l1 -1v-2l1 -2v-3l1 -2v-1l1 -2v-2l1 -1v-2l1 -2v-3l1 -2v-1l1 -2v-2l1 -1v-2l1 -2v-3l1 -2v-2l1 -1v-2l1 -2v-2l1 -2v-1l1 -2v-4l1 -2v-1l1 -2v-2l1 -2v-2l1 -2v-4l1 -2v-2l1 -2v-2l1 -2v-2l1 -2v-5l1 -2v-2l1 -3v-2l1 -3v-2l1 -3v-2l1 -3v-5l1 -3v-2l1 -3v-3l1 -3v-2l1 -3v-5l1 -3v-3l1 -2v-3l1 -2v-3l1 -2v-5l1 -3v-2l1 -2v-2l1 -2v-3l1 -2v-2l1 -2v-4l1 -1v-2l1 -2v-2l1 -2v-1l1 -2v-3l1 -2v-1l1 -2v-1l1 -2v-1l1 -2v-1l1 -2v-3l1 -1v-1l1 -2v-1l1 -1v-2l1 -1v-2l1 -2v-1l1 -1v-1l1 -2v-1l1 -1v-3l1 -1v-1l1 -1v-1l1 -2v-1l1 -1v-1l1 -1v-3l1 -1v-1l1 -1v-1l1 -1v-2l1 -1v-2l1 -1v-1l1 -2v-1l1 -1v-1l1 -1v-2l1 -2v-1l1 -1v-1l1 -1v-1l1 -2v-1l1 -1v-2l1 -1v-1l1 -2v-1l1 -1v-1l1 -1v-2l1 -1v-2l1 -1v-1l1 -1v-1l1 -1v-2l1 -1v-2l1 -1v-1l1 -1v-1l1 -1v-1l1 -1v-2l1 -1v-1l1 -2v-1l1 -1v-1l1 -1v-2l1 -1v-1l1 -1v-1l1 -1v-1l1 -1v-3l1 -1v-1l1 -1v-1l1 -1v-1l1 -1v-1l1 -1v-2l1 -1v-1l1 -1v-1l1 -1v-2l1 -1v-2l1 -1v-1l1 -1v-1l1 -1v-1l1 -1v-2l1 -1v-1l1 -1v-1l1 -1v-2l1 -1v-1l1 -1v-2l1 -1v-1l1 -1v-1l1 -1v-1l1 -1v-2l1 -1v-1l1 -2v-1l1 -1v-1l1 -1v-2l1 -1v-1l1 -1v-1l1 -1v-1l1 -2v-1l1 -1v-3l1 -1v-2l1 -1v-1l1 -2v-1l1 -1v-3l1 -1v-2l1 -1v-1l1 -2v-1l1 -1v-3l1 -1v-1l1 -2v-1l1 -1v-2l1 -1v-1l1 -2v-2l1 -2v-1l1 -1v-2l1 -1v-1l1 -2v-2l1 -2v-1l1 -1v-2l1 -1v-1l1 -1v-3l1 -1v-2l1 -1v-1l1 -2v-1l1 -1v-2l1 -1v-3l1 -1v-1l1 -2v-1l1 -1v-2l1 -1v-3l1 -1v-1l1 -1v-2l1 -1v-1l1 -2v-1h42l2 2v1h1v1h1v1h1v1h1v1l1 1h1v1h1v1h1v1l5 5v1h1v1h1v1h1v1l1 1v1h1v1h1v1l2 2v1l1 1v1h1v1l2 2v1h1v2l2 2v1h1v1l1 1v1l1 1v1l2 2v1l1 1v1l1 1v1h1v1l1 1v1l2 2v2l2 2v1l1 1v1h1v2l1 1v1l2 2v1l1 1v2l2 2v1l1 1v1l2 2v2l1 1v1l1 1v1h1v1l1 1v2l1 1v1l2 2v1l1 1v2l1 1v1l1 1v1l2 2v1l1 1v2l1 1v1l1 1v1l1 1v1l1 1v2h1v1l1 1v1l1 1v1l1 1v2l1 1v1l1 1v1l1 1v1l1 1v1l1 1v2l1 1v1l1 1v1l1 1v1l1 1v3l1 1v1l1 1v1l1 1v1l1 1v3l1 1v1l1 1v2l1 1v1l1 1v2l1 1v2l1 2v1l1 1v2l1 1v1l1 2v2l1 2v1l1 2v1l1 1v2l1 1v2l1 1v3l1 1v2l1 1v2l1 1v2l1 1v3l1 1v2l1 1v2l1 1v2l1 1v3l1 1v2l1 1v2l1 1v1l1 2v1l1 2v2l1 1v2l1 1v1l1 2v1l1 1v3l1 1v1l1 1v2l1 1v1l1 1v2l1 2v1l1 1v1l1 1v1l1 1v2l1 1v2l1 1v1l1 1v1l1 1v1l1 2v2l1 1v1l1 1v1l1 1v1l1 1v3l1 1v1l1 1v1l1 1v1l1 1v1l1 1v3l1 1v1l1 1v1l1 1v1l1 1v2l1 1v1l1 1v1l1 1v1l1 1v2l1 1v1l1 1v1l1 1v2l1 1v1l1 1v1l1 1v1l1 1v1l1 1v1l1 1v2l1 1v1l1 1v1l1 1v1l1 1v1l1 1v1l1 1v1l1 1v1l2 2v2l1 1v1l2 2v1l1 1v1l1 1v1l1 1v1h1v1l1 1v1l1 1v1l1 1v1h1v1l2 2v1l1 1v1h1v1l1 1v1h1v2h1v1l2 2v1h1v1l1 1v1h1v1h1v1l2 2v1l4 4v1h1v1h1v1h1v1l1 1v1h1v1h1v1h1v1h1v1h1v1l2 2h1v1h1v1l4 4v1h1l7 7h1v1l2 2h1v1h1v1h1v1h1v1h1v1h1l1 1v1h1l2 2h1v1l1 1h1v1h1v1h1v1h1l2 2h1v1h1v1h1v1h1v1h1l3 3h1v1h1v1h1v1h1l2 2h1v1h1v1h1v1h1l2 2h1v1h1v1h1v1h1l1 1h1v1h1l1 1v1h1l1 1h1v1h1v1h1l1 1h1v1h1v1h1l1 1h1v1h1l2 2h1v1h1l1 1h1v1h1l1 1h1v1h1v1h1l1 1h1l2 2h1l1 1h1v1h1v1h2v1h1l1 1h1v1h2v1h1v1h2v1h2v1h1l1 1h1v1h1l1 1h2v1h2v1h1l1 1h1l1 1h1l1 1h1l1 1h1l1 1h1l1 1h1l1 1h2v1h2v1h2l1 1h1l1 1h2l1 1h1l1 1h2v1h2l1 1h2v1h3v1h2l1 1h2l1 1h2l1 1h2l1 1h2l1 1h3v1h3l1 1h4l1 1h12v-1h5v-1h4v-1h3l1 -1h3v-1h3l1 -1h3v-1h4v-1h3v-1h3v-1h3v-1h3l1 -1h2v-1h3v-1h3v-1h2l1 -1h2v-1h3v-1h2l1 -1h2l1 -1h2v-1h2l1 -1h2l1 -1h1l1 -1h2v-1h2l1 -1h2v-1h2v-1h2v-1h2l1 -1h2v-1h2v-1h2v-1h2l1 -1h1l1 -1h1l1 -1h2v-1h2v-1h2v-1h2v-1h2v-1h2l1 -1h2v-1h1l1 -1h2v-1h2v-1h2v-1h2l1 -1h2v-1h2v-1h2v-1h2l1 -1h1l1 -1h2v-1h2v-1h2l1 -1h2v-1h2l1 -1h2v-1h3v-1h3v-1h2l1 -1h2l1 -1h3l1 -1h3v-1h4v-1h5v-1h6v-1h8l1 -1h12l1 -1h34v1h858v-1l1 -9v-17l1 -9v-9l1 -9v-9l1 -9v-8l1 -9v-17l1 -7v-8l1 -8v-7l1 -8v-7l1 -7v-14l1 -6v-7l1 -7v-6l1 -7v-6l1 -7v-6l1 -7v-12l1 -7v-6l1 -6v-6l1 -6v-7l1 -6v-12l1 -6v-6l1 -6v-7l1 -6v-6l1 -6v-12l1 -6v-6l1 -6v-6l1 -6v-6l1 -6v-7l1 -6v-12l1 -6v-6l1 -6v-6l1 -7v-6l1 -6v-12l1 -6v-4l1 -2v-2l1 -2v-3l1 -3v-5l1 -2v-3l1 -3v-2l1 -3v-2l1 -3v-2l1 -2v-4l1 -2v-2l1 -2v-2l1 -1v-2l1 -2v-2l1 -2v-1l1 -1v-2l1 -1v-1l1 -1v-2l1 -1v-1l1 -1v-1l2 -2v-1l1 -1v-2l2 -2v-1l2 -2v-2h1v-1l1 -1v-1h1v-1l1 -1v-1l1 -1v-1h1v-1l1 -1v-1h1v-1l1 -1v-1l1 -1v-1l2 -2v-1l1 -1v-1l1 -1v-1l1 -1v-1l2 -2v-2l1 -1v-1l1 -1v-1l1 -1v-1l1 -1v-1l1 -1v-3l1 -1v-1l1 -2v-1l1 -1v-1l1 -1v-3l1 -1v-2l1 -1v-2l1 -1v-1l1 -2v-3l1 -1v-2l1 -1v-2l1 -1v-2l1 -2v-1l1 -2v-3l1 -2v-1l1 -2v-1l1 -2v-2l1 -2v-3l1 -2v-1l1 -2v-2l1 -2v-1l1 -2v-3l1 -2v-2l1 -2v-1l1 -2v-2l1 -2v-1l1 -2v-3l1 -2v-2l1 -2v-1l1 -2v-2l1 -1v-4l1 -1v-2l1 -1v-2l1 -2v-1l1 -2v-3l1 -2v-1l1 -2v-1l1 -1v-2l1 -1v-2l1 -1v-3l1 -1v-2l1 -1v-2l1 -1v-1l1 -2v-2l1 -2v-1l1 -1v-2l1 -1v-1l1 -1v-3l1 -1v-2l1 -1v-1l1 -1v-2l1 -1v-1l1 -2v-2l1 -1v-2l1 -1v-1l1 -1v-2l1 -1v-2l1 -2v-1l1 -1v-1l1 -2v-1l1 -1v-3l1 -1v-1l1 -1v-1l1 -2v-1l1 -1v-1l1 -1v-3l1 -1v-1l1 -1v-1l1 -2v-1l1 -1v-2l1 -1v-1l1 -2v-1l1 -1v-1l1 -1v-2l1 -1v-1l1 -2v-1l1 -1v-1l1 -1v-1l1 -1v-2l1 -1v-1l1 -1v-1l1 -1v-1l1 -2v-2l1 -1v-1l1 -1v-1l1 -1v-1l1 -1v-2h1v-1l1 -1v-1l1 -1v-1l1 -1v-1l1 -1v-2l1 -1v-1l1 -1v-1l1 -1v-1l1 -1v-1l1 -1v-1l1 -1v-1l1 -1v-1l1 -1v-1l1 -1v-1l1 -1v-1l1 -1v-1l2 -2v-2l1 -1v-1l2 -2v-1l1 -1v-1l1 -1v-1l1 -1v-1l2 -2v-2h1v-1l1 -1v-1l2 -2v-1l1 -1v-1l2 -2v-1l2 -2v-1l1 -1v-1h1v-1l2 -2v-1l1 -1v-1h1v-1l3 -3v-1l3 -3v-1h1v-1l11 -11h1v-1h1v-1h1v-1h1v-1h1l1 -1h1v-1l1 -1h1v-1h1v-1h1v-1h1v-1h1l2 -2v-1h27l1 1h1v1h1v1h1v1h1v1h1l1 1h1v1h1v1h1v1h1l2 2h1v1h1l3 3h1v1h1v1h1v1h1v1h1l2 2v1h1v1h1v1h1l1 1v1h1v1l3 3v1h1v1l1 1v1h1v1l2 2v1l1 1v1l2 2v1l2 2v2l1 1v1h1v1l1 1v1l1 1v1l1 1v1l1 1v1l1 1v1l1 1v1l1 1v1l1 1v1l1 1v1l1 1v1l1 1v2l1 1v1h1v1l1 1v1l1 1v2l1 1v1l1 1v1l1 1v1h1v2l1 1v1l1 1v1l2 2v1l1 1v2l1 1v1l1 1v1l1 1v1l1 1v2l1 1v1l1 1v1l1 1v1l1 1v2l1 1v2l1 1v1l1 1v1l1 1v1l1 1v2l1 1v1l1 1v1l1 1v1l1 1v2l1 1v1l1 1v1l1 1v1l1 1v3l1 1v1l1 1v1l1 1v1l1 1v1l1 1v2l1 1v1l1 1v1l1 1v1l1 1v2l1 1v1l1 1v1l1 1v1l1 1v3l1 1v1l1 1v1l1 1v1l1 1v1l1 1v2l1 1v1l1 1v1l1 1v1l1 1v2l1 1v1l1 1v1l1 1v1l1 1v2l1 1v1l1 1v1l1 1v1l2 2v2l1 1v1l1 1v1l1 1v1l1 1v2l1 1v1l1 1v1l1 1v1l1 1v2l1 1v1l1 1v1l1 1v1l1 1v1l1 1v2l1 1v1l1 1v1l1 1v1l1 1v2l1 1v1l1 1v1l1 1v1l1 1v2l1 1v1l1 1v1l1 1v1l1 1v1l1 1v2l1 1v1l1 1v1l1 1v1l1 1v2l1 1v1l1 1v1l1 1v1l1 1v2l1 1v1l1 1v1l2 2v1l1 1v2l1 1v1l1 1v1l2 2v2l1 1v1l1 1v1h1v1l1 1v2l2 2v1l1 1v1h1v1l1 1v2h1v1l1 1v1l2 2v2h1v1l2 2v1l1 1v1l2 2v1h1v1l1 1v1h1v2h1v1l3 3v1l1 1v1h1v1h1v1l1 1v1l3 3v1h1v1h1v2h1v1h1v1l2 2v1l4 4v1l5 5v1l4 4v1l4 4v1h1v1h1v1h1v1h1v1h1v1l4 4v1h1v1h1v1h1v1h1v1h1v1h1v1h1v1h1v1h1v1l3 3h1v1l3 3h1v1h1v1l2 2h1v1h1v1h1v1h1v1h1v1h1v1h1v1h1l2 2h1v1l1 1h1v1h1v1h1v1h1l2 2h1v1h1v1h1v1h1l1 1h1v1h1v1h1l1 1h1v1h1v1h1l1 1h1v1h1v1h1l1 1h1v1h1l1 1h1v1h1l1 1h1v1h1l1 1h1v1h1l1 1h1l1 1h1v1h2v1h1l1 1h1v1h2v1h1l1 1h1l1 1h1l1 1h1v1h2v1h2v1h2v1h1l1 1h2v1h2v1h2v1h2v1h2v1h2v1h2v1h2l1 1h1l1 1h2v1h2v1h2v1h2l1 1h2v1h2v1h2v1h2l1 1h1l1 1h2l1 1h1l1 1h2l1 1h2v1h2l1 1h3v1h3v1h4v1h5l1 1h22v-1h6v-1h5l1 -1h4l1 -1h4l1 -1h4v-1h4v-1h4v-1h3l1 -1h3v-1h3v-1h4v-1h3v-1h3v-1h3v-1h3l1 -1h2l1 -1h2l1 -1h3v-1h3v-1h3v-1h3v-1h3v-1h3v-1h3v-1h3l1 -1h2l1 -1h2l1 -1h2v-1h3l1 -1h2l1 -1h2v-1h3v-1h3v-1h3v-1h2l1 -1h2v-1h3v-1h2l1 -1h2v-1h3v-1h2l1 -1h2v-1h3v-1h2l1 -1h2l1 -1h2v-1h2l1 -1h2l1 -1h2v-1h3v-1h2l1 -1h2v-1h3v-1h2l1 -1h2v-1h3l1 -1h2v-1h3v-1h2l1 -1h2l1 -1h2l1 -1h2l1 -1h2l1 -1h2l1 -1h2l1 -1h2l1 -1h3v-1h3v-1h4v-1h3l1 -1h2l1 -1h3l1 -1h4v-1h4l1 -1h4v-1h5l1 -1h5l1 -1h8v-1h13v-1h85l1 -1h755v-13l1 -14v-12l1 -9v-8l1 -7v-6l1 -6v-6l1 -5v-12l1 -5v-5l1 -5v-5l1 -5v-5l1 -5v-11l1 -4v-5l1 -5v-5l1 -5v-4l1 -5v-10l1 -4v-5l1 -5v-4l1 -5v-5l1 -4v-5l1 -4v-10l1 -4v-5l1 -4v-5l1 -4v-5l1 -4v-9l1 -5v-4l1 -5v-4l1 -4v-5l1 -4v-9l1 -4v-4l1 -5v-4l1 -4v-5l1 -4v-4l1 -5v-8l1 -4v-4l1 -4v-4l1 -5v-4l1 -4v-8l1 -4v-4l1 -4v-4l1 -4v-4l1 -4v-4l1 -4v-7l1 -4v-4l1 -3v-4l1 -3v-4l1 -3v-7l1 -3v-3l1 -4v-3l1 -3v-3l1 -3v-6l1 -3v-4l1 -3v-3l1 -3v-3l1 -3v-3l1 -3v-6l1 -3v-3l1 -3v-3l1 -3v-3l1 -1v-3l1 -1v-1l1 -1v-2l1 -1v-1l1 -1v-3l1 -1v-1l1 -1v-1l1 -2v-1l1 -1v-1l1 -1v-3l1 -1v-1l1 -1v-2l1 -1v-1l1 -1v-3l1 -1v-1l1 -1v-2l1 -1v-1l1 -1v-3l1 -1v-1l1 -1v-1l1 -2v-1l1 -1v-1l1 -1v-3l1 -1v-1l1 -2v-1l1 -1v-1l1 -1v-3l1 -1v-1l1 -2v-1l1 -1v-1l1 -2v-2l1 -1v-2l1 -1v-1l1 -1v-1l1 -2v-1l1 -1v-3l1 -1v-1l1 -1v-2l1 -1v-1l1 -1v-3l1 -1v-1l1 -2v-1l1 -1v-1l1 -2v-2l1 -1v-2l1 -1v-1l1 -1v-2l1 -1v-1l1 -1v-3l1 -1v-1l1 -2v-1l1 -1v-1l1 -2v-2l1 -1v-2l1 -1v-1l1 -1v-2l1 -1v-2l1 -2v-1l1 -1v-1l1 -2v-1l1 -1v-1l1 -2v-2l1 -1v-2l1 -1v-1l1 -1v-2l1 -1v-2l1 -2v-1l1 -1v-1l1 -2v-1l1 -1v-3l1 -1v-1l1 -1v-2l1 -1v-1l1 -1v-2l1 -1v-2l1 -1v-2l1 -1v-1l1 -1v-2l1 -1v-2l1 -2v-1l1 -1v-1l1 -2v-1l1 -1v-3l1 -1v-1l1 -1v-2l1 -1v-1l1 -1v-2l1 -1v-2l1 -2v-1l1 -1v-1l1 -2v-1l1 -1v-3l1 -1v-1l1 -1v-2l1 -1v-1l1 -1v-3l1 -1v-1l1 -2v-1l1 -1v-1l1 -1v-2l1 -1v-2l1 -2v-1l1 -1v-1l1 -2v-1l1 -1v-3l1 -1v-1l1 -1v-2l1 -1v-1l1 -1v-3l1 -1v-1l1 -2v-1l1 -1v-1l1 -2v-1l1 -1v-3l1 -1v-1l1 -1v-2l1 -1v-1l1 -1v-3l1 -1v-1l1 -1v-2l1 -1v-1l1 -1v-3l1 -1v-1l1 -1v-2l1 -1v-1l1 -1v-2l1 -1v-2l1 -1v-2l1 -1v-1l1 -1v-2l1 -1v-2l1 -1v-2l1 -1v-1l1 -1v-2l1 -1v-2l1 -1v-2l1 -1v-1l1 -1v-2l1 -1v-1l1 -1v-3l1 -1v-1l1 -1v-2l1 -1v-1l1 -1v-3l1 -1v-1l1 -1v-2l1 -1v-1l1 -1v-3l1 -1v-1l1 -1v-2l1 -1v-1l1 -1v-2l1 -1v-2l1 -1v-2l1 -1v-1l1 -1v-2l1 -1v-1h50v1l1 1v1l1 1v2l1 1v2l1 1v1l1 1v1l1 1v3l1 1v1l1 1v1l1 2v1l1 1v1l1 1v2l1 2v1l1 1v1l1 1v1l1 2v2l1 1v1l1 1v1l1 2v1l1 1v2l1 1v2l1 1v1l1 1v1l1 1v1l1 2v2l1 1v1l1 1v2l1 1v1l1 1v2l1 1v2l1 1v1l1 1v1l1 1v3l1 1v1l1 1v1l1 1v2l1 1v1l1 1v2l1 2v1l1 1v1l1 1v1l1 2v2l1 1v1l1 1v1l1 2v1l1 1v1l1 1v3l1 1v1l1 1v1l1 1v1l1 2v2l1 1v1l1 1v2l1 1v1l1 1v2l1 1v2l1 1v1l1 1v1l1 1v2l1 1v2l1 1v2l1 1v1l1 1v1l1 2v2l1 1v2l1 1v1l1 1v2l1 1v2l1 1v2l1 1v1l1 1v2l1 1v1l1 1v3l1 1v1l1 2v1l1 1v1l1 2v2l1 1v1l1 2v1l1 1v1l1 2v2l1 1v2l1 1v1l1 1v2l1 1v1l1 1v3l1 1v1l1 2v1l1 1v1l1 2v2l1 1v2l1 1v1l1 1v2l1 1v2l1 2v1l1 1v1l1 2v1l1 1v1l1 1v3l1 1v1l1 2v1l1 1v1l1 2v2l1 1v2l1 1v1l1 1v2l1 1v2l1 1v2l1 1v1l1 1v2l1 1v1l1 1v3l1 1v1l1 1v2l1 1v1l1 1v3l1 1v1l1 1v2l1 1v1l1 1v3l1 1v1l1 1v1l1 1v2l1 1v1l1 1v3l1 1v1l1 1v1l1 2v1l1 1v2l1 1v2l1 1v1l1 1v1l1 1v3l1 1v1l1 1v1l1 1v1l1 2v1l1 1v2l1 1v1l1 1v1l1 2v1l1 1v2l1 1v1l1 1v1l1 1v1l1 1v3l1 1v1l1 1v1l1 1v1l1 1v1l1 1v2l1 1v1l1 1v1l1 1v1l1 1v2l1 1v1l1 1v1l1 1v1l1 1v2l1 1v1l1 1v1l1 1v1l1 1v1l1 1v2h1v1l1 1v1l1 1v1l1 1v2l1 1v1l1 1v1l2 2v2l1 1v1l1 1v1l1 1v1l1 1v1l1 1v1l1 1v1l1 1v1l1 1v1l1 1v2l1 1v1h1v1l1 1v1l1 1v2l1 1v1l1 1v1h1v1l1 1v1l1 1v2l1 1v1l2 2v1l1 1v2l1 1v1h1v1l1 1v1l1 1v2l1 1v1h1v1l1 1v1l1 1v1l1 1v1l1 1v1l1 1v1l2 2v2l1 1v1h1v1l1 1v1l1 1v1l1 1v1l1 1v1l2 2v1l1 1v1l1 1v1l1 1v1h1v1l1 1v2h1v1l1 1v1h1v1l1 1v2h1v1l1 1v1h1v1l2 2v2h1v1l2 2v1l1 1v1l1 1v1h1v1l2 2v1l1 1v1h1v1l2 2v1h1v2h1v1l3 3v1l1 1v1h1v1l2 2v1l3 3v1h1v1h1v2h1v1h1v1l2 2v1l4 4v1l5 5v1l4 4v1h1v1h1v1h1v1h1v1l5 5v1h1v1h1v1h1v1h1v1l4 4v1h1l4 4v1h1v1h1v1h1l1 1v1h1v1h1v1h1l1 1v1h1v1h1v1h1l2 2v1h1l5 5h1v1h1v1h1v1h1v1h1v1h1l1 1v1h1l2 2h1v1l1 1h1v1h1l3 3h1v1h1v1h1v1h1l1 1h1v1h1v1h1v1h1l1 1h1v1h1v1h1l1 1h1l2 2h1v1h2v1h1v1h2v1h2v1h1v1h2v1h1l1 1h2v1h1l1 1h2v1h2v1h2l1 1h2v1h3v1h3l1 1h4l1 1h17v-1h5v-1h4v-1h4v-1h3l1 -1h3v-1h3l1 -1h3v-1h3l1 -1h2l1 -1h2l1 -1h2v-1h3v-1h2l1 -1h3v-1h2v-1h2l1 -1h2l1 -1h2v-1h2l1 -1h2v-1h2v-1h3v-1h2v-1h2l1 -1h1l1 -1h2l1 -1h1l1 -1h2v-1h2v-1h2l1 -1h2v-1h2v-1h2l1 -1h2v-1h2v-1h2v-1h2v-1h2v-1h2l1 -1h1l1 -1h1l1 -1h2v-1h1l1 -1h1l1 -1h1l1 -1h1l1 -1h1v-1h2l1 -1h1v-1h2v-1h2v-1h1l1 -1h1l1 -1h1l1 -1h1l1 -1h1v-1h2v-1h2v-1h1l1 -1h1l1 -1h1v-1h2v-1h2v-1h1l1 -1h1l1 -1h1v-1h2v-1h2v-1h2v-1h2v-1h1l1 -1h1l1 -1h1v-1h2v-1h2v-1h1l1 -1h2v-1h1l1 -1h1l1 -1h1l1 -1h1l1 -1h1v-1h2l1 -1h1v-1h2v-1h2l1 -1h1l1 -1h2v-1h1l1 -1h2v-1h2v-1h2l1 -1h1l1 -1h2v-1h2l1 -1h1l1 -1h2l1 -1h1l1 -1h2l1 -1h2l1 -1h2v-1h3l1 -1h2l1 -1h2l1 -1h2l1 -1h3v-1h4v-1h3l1 -1h3v-1h4v-1h4l1 -1h3l1 -1h4l1 -1h4l1 -1h5v-1h5v-1h6l1 -1h6v-1h6l1 -1h7v-1h8v-1h9l1 -1h12l1 -1h63v1h14v1h11v1h9v1h8v1h8v1h7v1h8v1h7v1h7v1h7v1h7v1h7v1h7l1 1h6l1 1h7v1h8v1h8v1h8v1h8l1 1h7l1 1h7v1h8v1h7l1 1h7v1h7v1h8v1h7l1 1h7v1h7l1 1h8v1h8l1 1h8v1h9v1h9l1 1h11v1h11l1 1h15l1 1h24l1 1h60v-1h32l1 -1h25l1 -1h24v-1h26v-1h29v-1h27v-1h25v-1h23v-1h22v-1h22v-1h21l1 -1h22l1 -1h11" fill="none" stroke="#009e73" stroke-width="82" stroke-linejoin="miter" stroke-miterlimit="3.8"/></g>
<rect x="75.5" y="51.5" width="538.0" height="375.0" fill="none" stroke="#000" stroke-width="1"/>
</svg>
</body>
</html>
